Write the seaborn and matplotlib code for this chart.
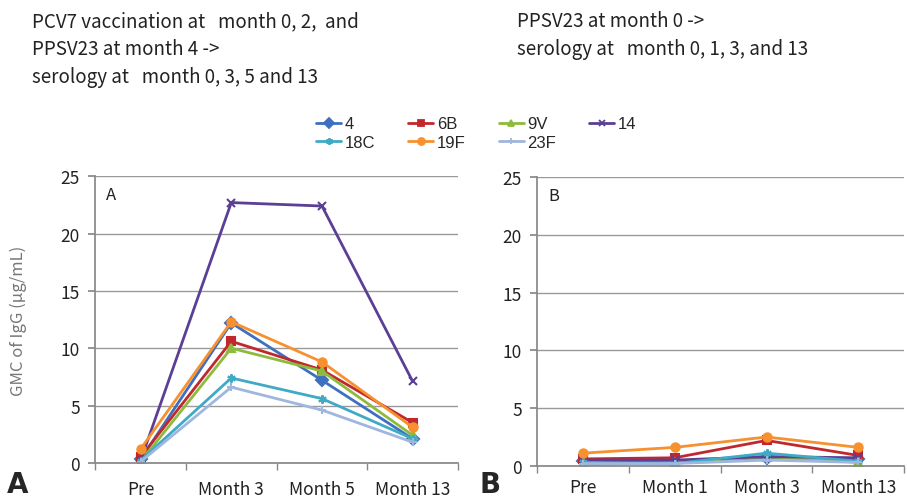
import numpy as np
import pandas as pd
import seaborn as sns
import matplotlib.pyplot as plt
from matplotlib.lines import Line2D

# Serotypes and styling
serotypes = ['4', '6B', '9V', '14', '18C', '19F', '23F']
colors = ['#3F6FBF', '#C0282D', '#8DBB3C', '#5B3F95', '#3FAAC6', '#F7902E', '#9FB6DE']
markers = ['D', 's', '^', 'x', (6, 2, 0), 'o', '+']

# Panel A: PCV7 + PPSV23
labels_a = ['Pre', 'Month 3', 'Month 5', 'Month 13']
gmc_a = {
    '4':   [0.3, 12.2, 7.2, 2.1],
    '6B':  [0.5, 10.6, 8.1, 3.5],
    '9V':  [0.1, 10.0, 8.0, 2.4],
    '14':  [0.2, 22.7, 22.4, 7.1],
    '18C': [0.2, 7.4, 5.6, 2.1],
    '19F': [1.2, 12.3, 8.8, 3.1],
    '23F': [0.1, 6.6, 4.6, 1.8],
}

# Panel B: PPSV23 only
labels_b = ['Pre', 'Month 1', 'Month 3', 'Month 13']
gmc_b = {
    '4':   [0.4, 0.4, 0.7, 0.6],
    '6B':  [0.6, 0.7, 2.2, 0.9],
    '9V':  [0.1, 0.3, 0.8, 0.3],
    '14':  [0.5, 0.5, 0.8, 0.7],
    '18C': [0.3, 0.2, 1.1, 0.4],
    '19F': [1.1, 1.6, 2.5, 1.6],
    '23F': [0.2, 0.2, 0.5, 0.3],
}

sns.set_theme(style='white')
plt.rcParams['font.family'] = ['Noto Sans CJK KR', 'DejaVu Sans']

palette = dict(zip(serotypes, colors))
marker_map = dict(zip(serotypes, markers))

fig = plt.figure(figsize=(9.07, 5.02), dpi=100)
ax_a = fig.add_axes([0.105, 0.076, 0.400, 0.571])
ax_b = fig.add_axes([0.592, 0.070, 0.405, 0.575])

for ax, gmc, labels, tag, pad in [(ax_a, gmc_a, labels_a, 'A', 12), (ax_b, gmc_b, labels_b, 'B', 9)]:
    for s in serotypes:
        sns.lineplot(x=np.arange(4), y=gmc[s], color=palette[s], marker=marker_map[s],
                     linewidth=2, markersize=6, markeredgewidth=1.5,
                     markeredgecolor=palette[s], ax=ax)
    ax.set_xlim(-0.5, 3.5)
    ax.set_ylim(0, 25)
    ax.set_yticks([0, 5, 10, 15, 20, 25])
    ax.set_xticks(range(4))
    ax.set_xticklabels(labels)
    ax.set_xticks(np.arange(-0.5, 4, 1), minor=True)
    ax.tick_params(axis='x', which='major', length=0, pad=pad, labelsize=12.5, colors='#222222')
    ax.tick_params(axis='x', which='minor', length=5, direction='out', color='#888888', bottom=True)
    ax.tick_params(axis='y', length=5, direction='out', color='#888888', left=True,
                   labelsize=12.5, labelcolor='#222222', pad=6)
    ax.yaxis.grid(True, color='#999999', linewidth=1)
    ax.set_axisbelow(True)
    for side in ['top', 'right']:
        ax.spines[side].set_visible(False)
    for side in ['left', 'bottom']:
        ax.spines[side].set_color('#888888')
    ax.set_xlabel('')
    ax.set_ylabel('')
    ax.text(0.03, 0.92, tag, transform=ax.transAxes, fontsize=12, color='#222222')

ax_a.set_ylabel('GMC of IgG (μg/mL)', fontsize=12, color='#777777', labelpad=24)

# Big panel letters
fig.text(0.008, 0.018, 'A', fontsize=20, fontweight='bold', family='DejaVu Sans')
fig.text(0.529, 0.018, 'B', fontsize=20, fontweight='bold', family='DejaVu Sans')

# Headers
fig.text(0.035, 0.978, 'PCV7 vaccination at   month 0, 2,  and\nPPSV23 at month 4 ->\nserology at   month 0, 3, 5 and 13',
         fontsize=13.5, va='top', linespacing=1.45, color='#222222')
fig.text(0.570, 0.978, 'PPSV23 at month 0 ->\nserology at   month 0, 1, 3, and 13',
         fontsize=13.5, va='top', linespacing=1.45, color='#222222')

# Legend, row-wise order for 4 columns
handles = {s: Line2D([], [], color=palette[s], marker=marker_map[s], lw=2, markersize=5,
                     markeredgewidth=1.3) for s in serotypes}
order = ['4', '18C', '6B', '19F', '9V', '23F', '14']
fig.legend([handles[s] for s in order], order, ncol=4, loc='center',
           bbox_to_anchor=(0.525, 0.733), frameon=False,
           prop={'family': 'Liberation Sans', 'size': 12},
           handlelength=1.5, handletextpad=0.2, columnspacing=2.0, labelspacing=0.2)

fig.savefig('out.png', dpi=100)
